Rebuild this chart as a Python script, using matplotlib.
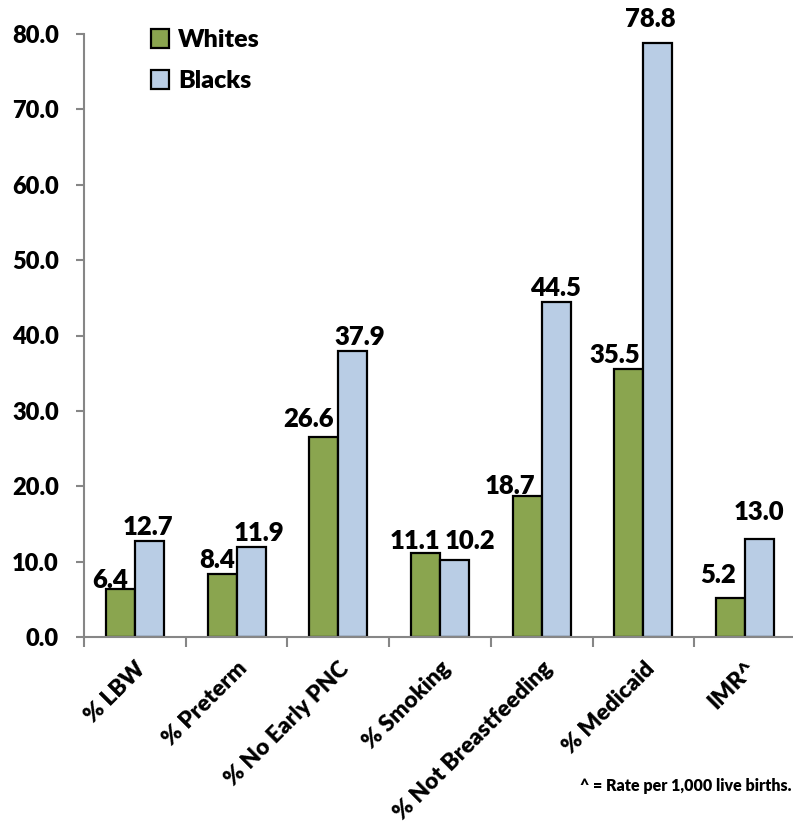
import numpy as np
import matplotlib
matplotlib.use("Agg")
import matplotlib.pyplot as plt
from matplotlib.patches import Patch

# Chart data
categories = ["% LBW", "% Preterm", "% No Early PNC", "% Smoking",
              "% Not Breastfeeding", "% Medicaid", "IMR^"]
whites = [6.4, 8.4, 26.6, 11.1, 18.7, 35.5, 5.2]
blacks = [12.7, 11.9, 37.9, 10.2, 44.5, 78.8, 13.0]
yticks = [0, 10, 20, 30, 40, 50, 60, 70, 80]

# hand placed label offsets (pixels from bar top centre), like the original
white_offsets = [(-10, 9), (-5, 14), (-15, 18), (-11, 12), (-17, 10), (-14, 14), (-13, 23)]
black_offsets = [(-1, 14), (8, 14), (7, 14), (15, 19), (-1, 14), (-8, 24), (-1, 27)]

green = "#8AA54F"
blue = "#B9CDE5"
grey = "#868686"

plt.rcParams['font.family'] = ['Lato', 'DejaVu Sans']
plt.rcParams['font.weight'] = 'bold'

fig = plt.figure(figsize=(7.93, 8.32), dpi=100)
ax = fig.add_axes([84/793, 1-637/832, 712/793, 603/832])

x = np.arange(len(categories))
w = 0.285
bw = ax.bar(x - w/2, whites, w, color=green, edgecolor="black", linewidth=1.6)
bb = ax.bar(x + w/2, blacks, w, color=blue, edgecolor="black", linewidth=1.6)

# value labels
for bars, vals, offs in [(bw, whites, white_offsets), (bb, blacks, black_offsets)]:
    for b, v, o in zip(bars, vals, offs):
        ax.annotate("%.1f" % v, (b.get_x() + b.get_width()/2, v),
                    xytext=o, textcoords="offset pixels",
                    ha="center", va="center", fontsize=18.5, fontweight="heavy")

ax.set_xlim(-0.5, len(categories) - 0.5)
ax.set_ylim(0, 80)
ax.set_yticks(yticks)
ax.set_yticklabels(["%.1f" % t for t in yticks], fontsize=17, fontweight="heavy")
ax.tick_params(axis="y", length=6, width=1.5, color=grey, pad=12)

# ticks between categories, labels at centres
ax.set_xticks(np.arange(len(categories) + 1) - 0.5)
ax.set_xticklabels([])
ax.tick_params(axis="x", which="major", length=7, width=1.5, color=grey)
ax.set_xticks(x, minor=True)
ax.set_xticklabels(categories, minor=True, rotation=45, ha="right", va="top",
                   rotation_mode="anchor", fontsize=16.5, fontweight="heavy")
ax.tick_params(axis="x", which="minor", length=0, pad=15)

for s in ["top", "right"]:
    ax.spines[s].set_visible(False)
for s in ["left", "bottom"]:
    ax.spines[s].set_color(grey)
    ax.spines[s].set_linewidth(1.5)

handles = [Patch(facecolor=green, edgecolor="black", linewidth=1.6),
           Patch(facecolor=blue, edgecolor="black", linewidth=1.6)]
ax.legend(handles, ["Whites", "Blacks"], loc="upper left",
          bbox_to_anchor=(0.062, 1.045), frameon=False,
          prop={"size": 18, "weight": "heavy"},
          handlelength=0.75, handleheight=0.75, handletextpad=0.35,
          labelspacing=0.75)

fig.text(791/793, 1-786/832, "^ = Rate per 1,000 live births.", ha="right",
         va="center", fontsize=11.5, fontweight="heavy")

fig.savefig("out.png", dpi=100)
